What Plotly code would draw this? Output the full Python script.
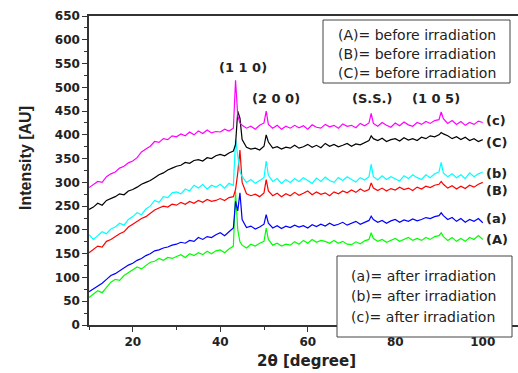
import plotly.graph_objects as go

# shared 2-theta grid (degrees)
two_theta = [10, 11, 12, 13, 14, 15, 16, 17, 18, 19,
             20, 21, 22, 23, 24, 25, 26, 27, 28, 29,
             30, 31, 32, 33, 34, 35, 36, 37, 38, 39,
             40, 41, 42, 43, 43.5, 44, 44.5, 45, 46, 47,
             48, 49, 50, 50.5, 51, 52, 53, 54, 55, 56,
             57, 58, 59, 60, 61, 62, 63, 64, 65, 66,
             67, 68, 69, 70, 71, 72, 73, 74, 74.5, 75,
             76, 77, 78, 79, 80, 81, 82, 83, 84, 85,
             86, 87, 88, 89, 90, 90.5, 91, 92, 93, 94,
             95, 96, 97, 98, 99, 100]

# (c) after irradiation - magenta
c_after = [289, 296, 302, 300, 312, 318, 322, 330, 334, 341,
           345, 352, 364, 370, 376, 386, 384, 392, 390, 398,
           396, 402, 398, 406, 400, 408, 403, 410, 404, 407,
           406, 412, 408, 414, 515, 440, 425, 420, 414, 418,
           412, 420, 425, 450, 422, 414, 420, 412, 418, 414,
           420, 415, 419, 412, 421, 416, 414, 422, 417, 420,
           414, 423, 418, 420, 415, 424, 419, 425, 445, 424,
           418, 426, 420, 416, 425, 419, 427, 421, 418, 426,
           422, 428, 424, 430, 432, 448, 434, 424, 430, 422,
           428, 420, 426, 422, 429, 426]

# (C) before irradiation - black
C_before = [243, 248, 256, 252, 262, 266, 270, 276, 274, 282,
            285, 290, 296, 300, 304, 310, 316, 320, 326, 330,
            334, 336, 342, 340, 346, 348, 345, 352, 350, 356,
            359, 356, 362, 366, 380, 450, 435, 390, 374, 370,
            372, 368, 376, 400, 385, 372, 375, 370, 374, 372,
            378, 372, 375, 380, 374, 378, 373, 382, 376, 380,
            375, 378, 382, 376, 381, 379, 384, 388, 398, 392,
            388, 393, 386, 390, 392, 387, 394, 389, 392, 388,
            395, 392, 398, 396, 400, 405, 402, 398, 392, 396,
            390, 395, 388, 392, 386, 390]

# (b) after irradiation - cyan
b_after = [190, 180, 188, 196, 192, 202, 206, 214, 210, 222,
           228, 236, 232, 244, 250, 262, 258, 270, 268, 278,
           280, 276, 286, 282, 294, 288, 296, 286, 294, 290,
           296, 288, 298, 294, 390, 350, 322, 312, 300, 306,
           298, 304, 310, 345, 315, 302, 308, 298, 306, 300,
           308, 302, 310, 304, 298, 309, 302, 311, 304, 300,
           310, 304, 312, 306, 301, 310, 305, 312, 338, 312,
           305, 314, 306, 312, 308, 303, 314, 308, 316, 310,
           306, 316, 310, 318, 322, 342, 320, 312, 318, 310,
           316, 308, 320, 312, 318, 322]

# (B) before irradiation - red
B_before = [152, 160, 166, 164, 176, 180, 186, 192, 196, 206,
            212, 218, 224, 228, 236, 242, 246, 250, 248, 254,
            252, 258, 254, 260, 256, 262, 258, 264, 260, 262,
            266, 262, 268, 270, 285, 320, 368, 300, 276, 272,
            275, 270, 278, 306, 282, 272, 277, 270, 276, 272,
            279, 273, 277, 282, 274, 280, 275, 278, 272, 280,
            276, 282, 278, 284, 279, 286, 281, 285, 299, 288,
            283, 288, 282, 287, 284, 290, 285, 288, 283, 290,
            286, 292, 289, 294, 296, 302, 296, 288, 293, 286,
            292, 287, 294, 290, 296, 300]

# (a) after irradiation - blue
a_after = [70, 76, 82, 88, 96, 104, 108, 114, 120, 126,
           130, 136, 140, 146, 150, 156, 158, 162, 164, 168,
           170, 174, 172, 178, 176, 184, 180, 186, 184, 190,
           194, 188, 196, 204, 260, 240, 278, 222, 205, 208,
           202, 206, 212, 232, 214, 204, 209, 203, 208, 205,
           210, 206, 209, 204, 211, 207, 212, 208, 214, 209,
           212, 216, 210, 214, 218, 212, 216, 220, 229, 222,
           216, 220, 214, 219, 222, 216, 221, 218, 223, 219,
           222, 226, 224, 228, 230, 236, 230, 222, 226, 218,
           224, 216, 222, 218, 224, 215]

# (A) before irradiation - green
A_before = [58, 66, 72, 68, 80, 90, 96, 94, 104, 110,
            116, 122, 118, 126, 132, 134, 140, 136, 142, 140,
            144, 148, 142, 150, 146, 152, 148, 155, 150, 156,
            158, 152, 160, 166, 281, 200, 175, 168, 162, 170,
            166, 172, 176, 204, 180, 168, 172, 166, 170, 168,
            175, 170, 178, 172, 180, 174, 178, 176, 172, 178,
            172, 176, 170, 169, 175, 171, 177, 180, 194, 182,
            176, 180, 174, 178, 182, 176, 180, 184, 178, 182,
            178, 184, 180, 186, 188, 194, 186, 178, 184, 176,
            182, 176, 184, 180, 188, 180]

series = [
    ("(A)", A_before, "#00FF00"),
    ("(a)", a_after, "#0000FF"),
    ("(B)", B_before, "#FF0000"),
    ("(b)", b_after, "#00FFFF"),
    ("(C)", C_before, "#000000"),
    ("(c)", c_after, "#FF00FF"),
]

label_y = {"(c)": 430, "(C)": 384, "(b)": 319, "(B)": 283, "(a)": 224, "(A)": 179}

peak_labels = ["(1 1 0)", "(2 0 0)", "(S.S.)", "(1 0 5)"]
peak_x = [45.2, 52.7, 74.7, 89.3]
peak_y = [542, 477, 477, 477]

legend_before = ["(A)= before irradiation", "(B)= before irradiation", "(C)= before irradiation"]
legend_after = ["(a)= after irradiation", "(b)= after irradiation", "(c)= after irradiation"]

# plot area in pixels: left 89, right 518, top 16, bottom 325
L, R, T, B = 89, 518, 16, 325
W, H = R - L, B - T


def px(xp):
    return (xp - L) / W


def py(yp):
    return (B - yp) / H


BOLD = dict(family="DejaVu Sans", color="#222", weight="bold")
REG = dict(family="DejaVu Sans", color="#222")

fig = go.Figure()
for name, vals, col in series:
    fig.add_trace(go.Scatter(x=two_theta, y=vals, mode="lines", name=name,
                             line=dict(color=col, width=1.2), showlegend=False))

ann = []
for name, vals, col in series:
    ann.append(dict(x=100.3, y=label_y[name], text=name, xref="x", yref="y",
                    xanchor="left", yanchor="middle", showarrow=False,
                    font=dict(size=13, **BOLD)))
for t, x_, y_ in zip(peak_labels, peak_x, peak_y):
    ann.append(dict(x=x_, y=y_, text=t, xref="x", yref="y", showarrow=False,
                    xanchor="center", yanchor="middle", font=dict(size=13, **BOLD)))

for t, yy in zip(legend_before, [35, 54, 73]):
    ann.append(dict(x=px(336), y=py(yy), text=t, xref="paper", yref="paper",
                    xanchor="left", yanchor="middle", showarrow=False,
                    font=dict(size=14, **REG)))
for t, yy in zip(legend_after, [276, 296, 317]):
    ann.append(dict(x=px(349), y=py(yy), text=t, xref="paper", yref="paper",
                    xanchor="left", yanchor="middle", showarrow=False,
                    font=dict(size=14, **REG)))

# axis titles
ann.append(dict(x=px(306), y=py(361), text="2θ [degree]", xref="paper", yref="paper",
                xanchor="center", yanchor="middle", showarrow=False,
                font=dict(size=15, **BOLD)))
ann.append(dict(x=px(25), y=py(158), text="Intensity [AU]", xref="paper", yref="paper",
                xanchor="center", yanchor="middle", showarrow=False, textangle=-90,
                font=dict(family="Arial, Liberation Sans", size=16, color="#222", weight="bold")))

shapes = [
    dict(type="rect", xref="paper", yref="paper",
         x0=px(323), x1=px(510), y0=py(83), y1=py(20),
         line=dict(color="#444", width=1), fillcolor="white", layer="above"),
    dict(type="rect", xref="paper", yref="paper",
         x0=px(337), x1=px(512), y0=py(337), y1=py(256),
         line=dict(color="#444", width=1), fillcolor="white", layer="above"),
]

tick_font = dict(size=12, **BOLD)
fig.update_layout(
    width=518, height=373,
    margin=dict(l=L, r=518 - R, t=T, b=373 - B, autoexpand=False),
    paper_bgcolor="white", plot_bgcolor="white",
    annotations=ann, shapes=shapes,
    xaxis=dict(range=[10, 10 + W / 4.375], tick0=0, dtick=20, ticks="outside", ticklen=5,
               tickwidth=1, tickcolor="#333", showline=True, linecolor="#333", linewidth=1.5,
               mirror=True, showgrid=False, zeroline=False, tickfont=tick_font, automargin=False,
               minor=dict(dtick=10, ticks="outside", ticklen=3, tickcolor="#333")),
    yaxis=dict(range=[0, 650], tick0=0, dtick=50, ticks="outside", ticklen=5, tickwidth=1,
               tickcolor="#333", showline=True, linecolor="#333", linewidth=1.5, mirror=False,
               showgrid=False, zeroline=False, tickfont=tick_font, automargin=False,
               minor=dict(dtick=25, ticks="outside", ticklen=3, tickcolor="#333")),
)

fig.write_html("out.html", config={"displayModeBar": False},
               post_script="document.body.style.margin='0px';")
